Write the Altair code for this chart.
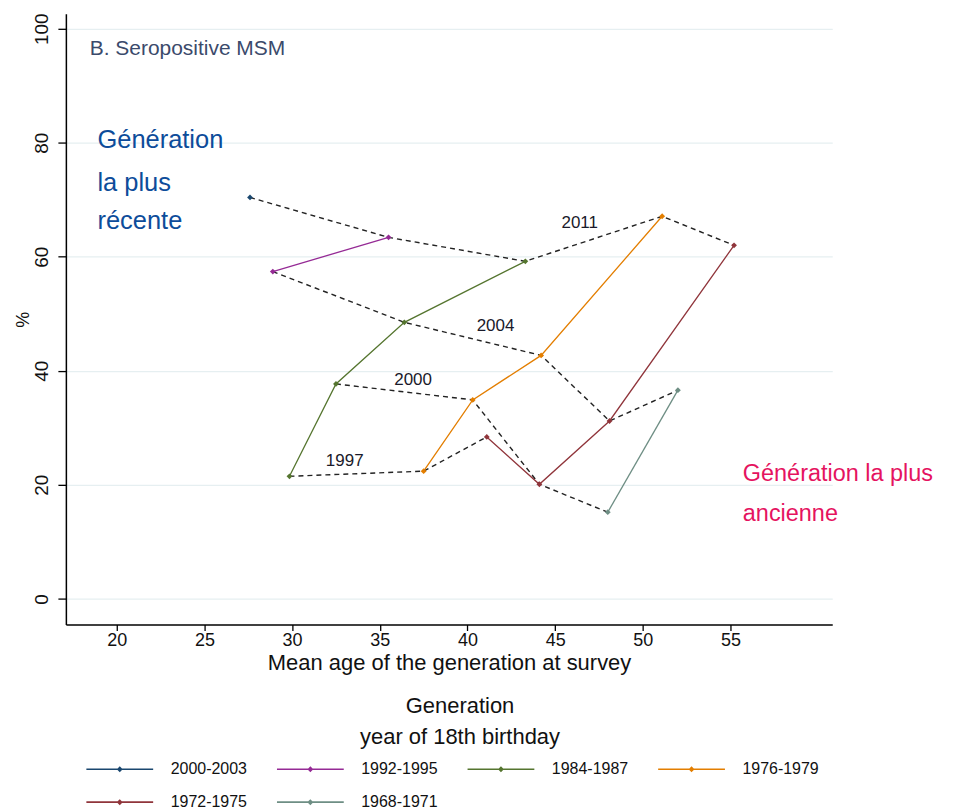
import altair as alt
import pandas as pd

# ---- data ----
generations = ["2000-2003", "1992-1995", "1984-1987", "1976-1979", "1972-1975", "1968-1971"]
gen_colors = ["#1a476f", "#952a95", "#55752f", "#e37e00", "#90353b", "#6e8e84"]

pt_gen = ["2000-2003",
          "1992-1995", "1992-1995",
          "1984-1987", "1984-1987", "1984-1987", "1984-1987",
          "1976-1979", "1976-1979", "1976-1979", "1976-1979",
          "1972-1975", "1972-1975", "1972-1975", "1972-1975",
          "1968-1971", "1968-1971"]
pt_survey = ["2011",
             "2004", "2011",
             "1997", "2000", "2004", "2011",
             "1997", "2000", "2004", "2011",
             "1997", "2000", "2004", "2011",
             "2000", "2004"]
pt_age = [27.6,
          28.9, 35.5,
          29.85, 32.5, 36.4, 43.3,
          37.5, 40.3, 44.2, 51.1,
          41.1, 44.1, 48.1, 55.2,
          48.0, 52.0]
pt_pct = [70.4,
          57.4, 63.4,
          21.5, 37.7, 48.5, 59.2,
          22.4, 34.9, 42.7, 67.1,
          28.4, 20.1, 31.2, 62.0,
          15.2, 36.6]

survey_labels = ["1997", "2000", "2004", "2011"]
survey_label_x = [33.0, 36.9, 41.6, 46.4]
survey_label_y = [24.2, 38.4, 47.8, 66.0]

x_ticks = [20, 25, 30, 35, 40, 45, 50, 55]
y_ticks = [0, 20, 40, 60, 80, 100]

panel_title = ["B. Seropositive MSM"]
panel_title_x = [18.46]
panel_title_y = [96.5]

recent_lines = ["Génération", "la plus", "récente"]
recent_x = [18.9, 18.9, 18.9]
recent_y = [80.4, 73.0, 66.2]

oldest_lines = ["Génération la plus", "ancienne"]
oldest_x = [55.7, 55.7]
oldest_y = [21.9, 14.9]

# ---- tables ----
df = pd.DataFrame({"gen": pt_gen, "survey": pt_survey, "age": pt_age, "pct": pt_pct})
df_surv = pd.DataFrame({"t": survey_labels, "x": survey_label_x, "y": survey_label_y})
df_title = pd.DataFrame({"t": panel_title, "x": panel_title_x, "y": panel_title_y})
df_recent = pd.DataFrame({"t": recent_lines, "x": recent_x, "y": recent_y})
df_old = pd.DataFrame({"t": oldest_lines, "x": oldest_x, "y": oldest_y})

FONT = "Liberation Sans"

xscale = alt.Scale(domain=[17.1, 60.8], nice=False, zero=False)
yscale = alt.Scale(domain=[-4.5, 102.6], nice=False, zero=False)

xenc = alt.X("age:Q", scale=xscale,
             axis=alt.Axis(values=x_ticks, title="Mean age of the generation at survey",
                           grid=False, tickSize=6, labelPadding=1, titlePadding=3,
                           labelFontSize=18, titleFontSize=22, format="d"))
yenc = alt.Y("pct:Q", scale=yscale,
             axis=alt.Axis(values=y_ticks, title="%", grid=True, gridColor="#e6eff1",
                           gridWidth=1.3, tickSize=8, labelAngle=270, labelAlign="center",
                           labelBaseline="bottom", labelPadding=6, titlePadding=0,
                           labelFontSize=19, titleFontSize=18, format="d"))

color = alt.Color("gen:N",
                  scale=alt.Scale(domain=generations, range=gen_colors),
                  sort=generations,
                  legend=alt.Legend(
                      orient="none", legendX=36, legendY=684,
                      direction="horizontal", columns=4,
                      title=["Generation", "year of 18th birthday"],
                      titleAnchor="middle", titleAlign="center", titleLimit=500,
                      titleFontSize=22, titleFontWeight="normal", titleLineHeight=31,
                      titleColor="#111111", titlePadding=2,
                      labelFontSize=16, labelColor="#111111", labelLimit=200,
                      symbolType="M-2,0L2,0M-0.11,0L0,-0.11L0.11,0L0,0.11Z",
                      symbolSize=1120, symbolStrokeWidth=1.6,
                      labelOffset=33, columnPadding=26, rowPadding=7,
                  ))

dashed = alt.Chart(df).mark_line(color="#222222", strokeDash=[5, 4], strokeWidth=1.4).encode(
    x=xenc, y=yenc, detail="survey:N", order="age:Q")

lines = alt.Chart(df).mark_line(strokeWidth=1.3).encode(
    x=xenc, y=yenc, color=color, order="age:Q")

points = alt.Chart(df).mark_point(shape="diamond", filled=True, size=34, opacity=1).encode(
    x=xenc, y=yenc, color=color)

surv_text = alt.Chart(df_surv).mark_text(fontSize=17, color="#1a1a2a", font=FONT).encode(
    x=alt.X("x:Q", scale=xscale), y=alt.Y("y:Q", scale=yscale), text="t:N")

title_text = alt.Chart(df_title).mark_text(fontSize=21, color="#3b4a6b", align="left",
                                           font=FONT).encode(
    x=alt.X("x:Q", scale=xscale), y=alt.Y("y:Q", scale=yscale), text="t:N")

recent_text = alt.Chart(df_recent).mark_text(fontSize=25.5, color="#0d4c9a", align="left",
                                             font=FONT).encode(
    x=alt.X("x:Q", scale=xscale), y=alt.Y("y:Q", scale=yscale), text="t:N")

old_text = alt.Chart(df_old).mark_text(fontSize=23.5, color="#e5135f", align="left",
                                       font=FONT).encode(
    x=alt.X("x:Q", scale=xscale), y=alt.Y("y:Q", scale=yscale), text="t:N")

chart = alt.layer(dashed, lines, points, surv_text, title_text, recent_text, old_text).properties(
    width=768, height=612,
    autosize=alt.AutoSizeParams(type="none"),
    padding={"left": 58, "top": 5, "right": 115, "bottom": 186},
).configure(font=FONT).configure_view(stroke=None).configure_axis(
    domainColor="#000000", tickColor="#000000", labelColor="#111111", titleColor="#111111",
    domainWidth=1.5, tickWidth=1.3, labelFont=FONT, titleFont=FONT, titleFontWeight="normal"
).configure_legend(labelFont=FONT, titleFont=FONT)

chart.save("out.html", embed_options={"renderer": "svg", "actions": False})
